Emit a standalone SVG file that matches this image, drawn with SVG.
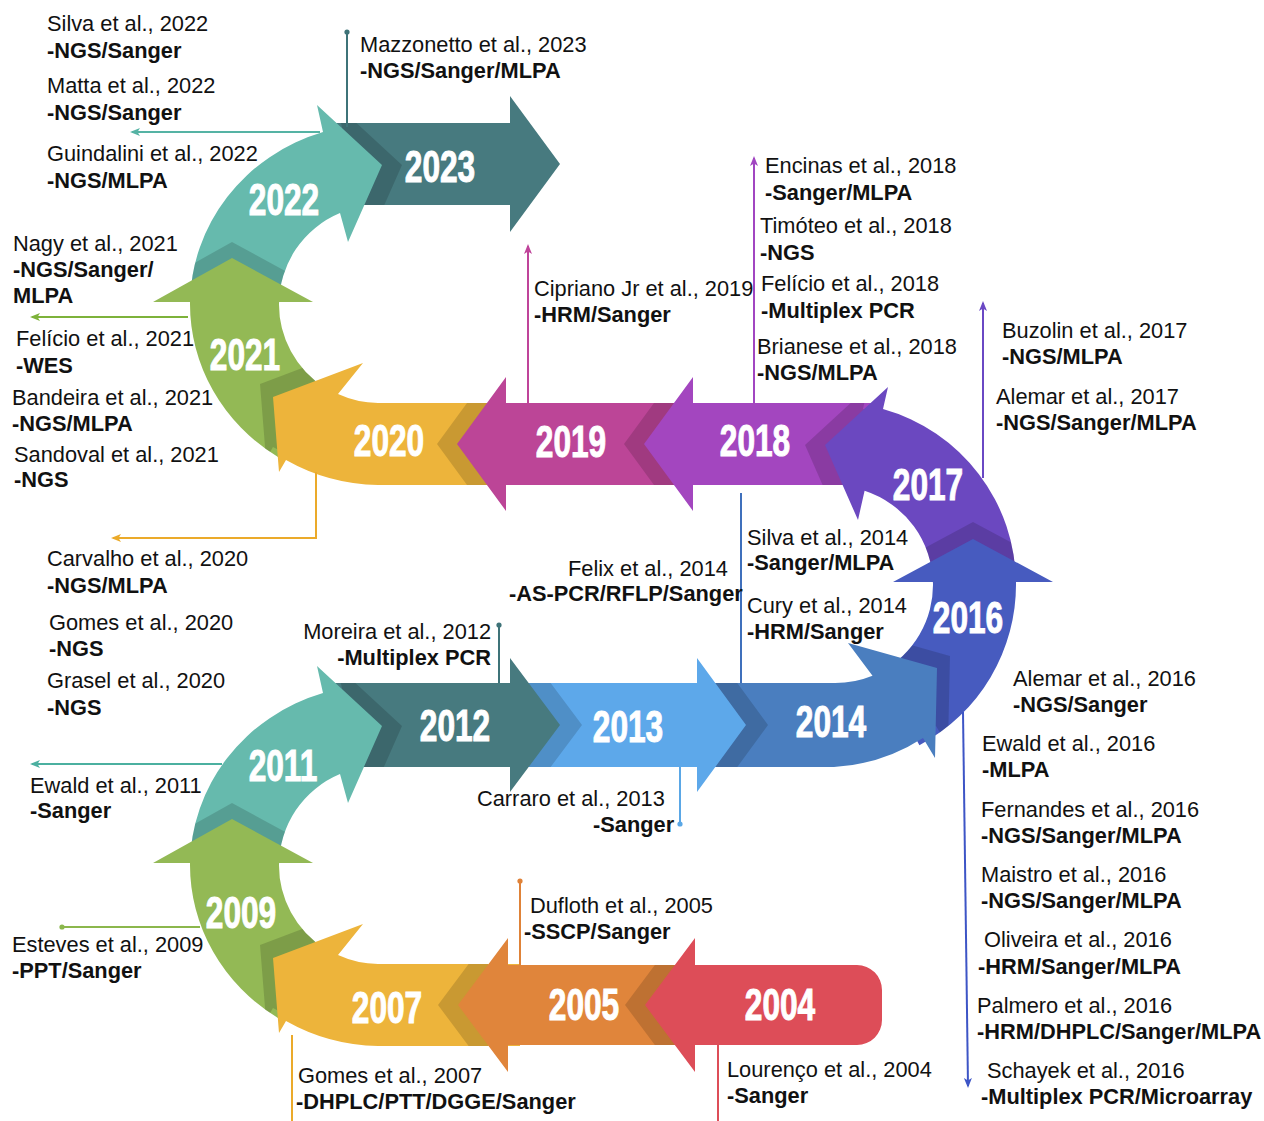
<svg xmlns="http://www.w3.org/2000/svg" xmlns:xlink="http://www.w3.org/1999/xlink" width="1264" height="1121" viewBox="0 0 1264 1121">
<style>
.t{font-family:"Liberation Sans",Arial,sans-serif;font-size:21.8px;fill:#111}
.b{font-weight:bold}
.yr{font-family:"Liberation Sans",Arial,sans-serif;font-weight:bold;font-size:44px;fill:#fff;text-anchor:middle;stroke:#fff;stroke-width:1}
.sh{fill:#000;opacity:.15}
.cn{fill:none;stroke-width:2}
</style>
<defs>
<path id="p2023" d="M330,123 L510,123 L510,96 L560,164 L510,232 L510,205 L330,205 Z"/>
<path id="p2022" d="M190,304 A188 181 0 0 1 323,132 L317,105 L382,165 L348,242 L340,213 A99 99 0 0 0 279,304 Z"/>
<path id="p2021" d="M190,302 L153,302 L232,258 L313,302 L279,302 A99 99 0 0 0 325.5,388 L278,457 A188 181 0 0 1 190,302 Z"/>
<path id="p2020" d="M520,403 L378,403 A99 99 0 0 1 338,394 L363,363 L273,397 L279,472 L286,460 A188 181 0 0 0 378,485 L520,485 Z"/>
<path id="p2019" d="M506,403 L506,377 L457,444 L506,511 L506,485 L700,485 L700,403 Z"/>
<path id="p2018" d="M693,403 L693,377 L644,444 L693,511 L693,485 L880,485 L880,403 Z"/>
<path id="p2017" d="M1016,584 A182 182 0 0 0 883,409 L888,387 L825,445 L858,520 L864.6,490.7 A99 99 0 0 1 933,584 Z"/>
<path id="p2016" d="M880.5,672 A99 99 0 0 0 933,582 L893,582 L973,539 L1053,582 L1016,582 A182 182 0 0 1 919.4,745.2 Z"/>
<path id="p2014" d="M705,683 L834,683 A99 99 0 0 0 872.5,675.7 L848,643 L937,668 L935,758 L923,738 A182 182 0 0 1 834,767 L705,767 Z"/>
<path id="p2013" d="M515,683 L697,683 L697,658 L746,725 L697,792 L697,767 L515,767 Z"/>
<path id="p2012" d="M330,683 L510,683 L510,658 L560,725 L510,792 L510,767 L330,767 Z"/>
<path id="p2011" d="M190,865 A188 181 0 0 1 323,693 L317,666 L382,726 L348,803 L340,774 A99 99 0 0 0 279,865 Z"/>
<path id="p2009" d="M190,863 L153,863 L232,819 L313,863 L279,863 A99 99 0 0 0 325.5,949 L278,1018 A188 181 0 0 1 190,863 Z"/>
<path id="p2007" d="M520,964 L378,964 A99 99 0 0 1 338,955 L363,924 L273,958 L279,1033 L286,1021 A188 181 0 0 0 378,1046 L520,1046 Z"/>
<path id="p2005" d="M508,965 L508,938 L458,1005 L508,1072 L508,1045 L700,1045 L700,965 Z"/>
<path id="p2004" d="M695,965 L695,938 L645,1005 L695,1072 L695,1045 L857,1045 A25 25 0 0 0 882,1020 L882,990 A25 25 0 0 0 857,965 Z"/>
<clipPath id="k2023"><use xlink:href="#p2023"/></clipPath>
<clipPath id="k2022"><use xlink:href="#p2022"/></clipPath>
<clipPath id="k2021"><use xlink:href="#p2021"/></clipPath>
<clipPath id="k2020"><use xlink:href="#p2020"/></clipPath>
<clipPath id="k2019"><use xlink:href="#p2019"/></clipPath>
<clipPath id="k2018"><use xlink:href="#p2018"/></clipPath>
<clipPath id="k2017"><use xlink:href="#p2017"/></clipPath>
<clipPath id="k2016"><use xlink:href="#p2016"/></clipPath>
<clipPath id="k2014"><use xlink:href="#p2014"/></clipPath>
<clipPath id="k2013"><use xlink:href="#p2013"/></clipPath>
<clipPath id="k2012"><use xlink:href="#p2012"/></clipPath>
<clipPath id="k2011"><use xlink:href="#p2011"/></clipPath>
<clipPath id="k2009"><use xlink:href="#p2009"/></clipPath>
<clipPath id="k2007"><use xlink:href="#p2007"/></clipPath>
<clipPath id="k2005"><use xlink:href="#p2005"/></clipPath>
<marker id="aTeal" viewBox="0 0 10 10" refX="8" refY="5" markerWidth="10" markerHeight="10" markerUnits="userSpaceOnUse" orient="auto"><path d="M0,1 L10,5 L0,9 L2.5,5 Z" fill="#55B3A4"/></marker>
<marker id="aGreen" viewBox="0 0 10 10" refX="8" refY="5" markerWidth="10" markerHeight="10" markerUnits="userSpaceOnUse" orient="auto"><path d="M0,1 L10,5 L0,9 L2.5,5 Z" fill="#7DB23A"/></marker>
<marker id="aYellow" viewBox="0 0 10 10" refX="8" refY="5" markerWidth="10" markerHeight="10" markerUnits="userSpaceOnUse" orient="auto"><path d="M0,1 L10,5 L0,9 L2.5,5 Z" fill="#EBAA2A"/></marker>
<marker id="aMag" viewBox="0 0 10 10" refX="8" refY="5" markerWidth="10" markerHeight="10" markerUnits="userSpaceOnUse" orient="auto"><path d="M0,1 L10,5 L0,9 L2.5,5 Z" fill="#BF449A"/></marker>
<marker id="aPur" viewBox="0 0 10 10" refX="8" refY="5" markerWidth="10" markerHeight="10" markerUnits="userSpaceOnUse" orient="auto"><path d="M0,1 L10,5 L0,9 L2.5,5 Z" fill="#A146C1"/></marker>
<marker id="aVio" viewBox="0 0 10 10" refX="8" refY="5" markerWidth="10" markerHeight="10" markerUnits="userSpaceOnUse" orient="auto"><path d="M0,1 L10,5 L0,9 L2.5,5 Z" fill="#6A48C4"/></marker>
<marker id="aBlue" viewBox="0 0 10 10" refX="8" refY="5" markerWidth="10" markerHeight="10" markerUnits="userSpaceOnUse" orient="auto"><path d="M0,1 L10,5 L0,9 L2.5,5 Z" fill="#3D55C6"/></marker>
<marker id="aTeal2" viewBox="0 0 10 10" refX="8" refY="5" markerWidth="10" markerHeight="10" markerUnits="userSpaceOnUse" orient="auto"><path d="M0,1 L10,5 L0,9 L2.5,5 Z" fill="#4BB0A0"/></marker>
<marker id="dDk" viewBox="0 0 6 6" refX="3" refY="3" markerWidth="6" markerHeight="6" markerUnits="userSpaceOnUse"><circle cx="3" cy="3" r="2.6" fill="#3E7378"/></marker>
<marker id="dLb" viewBox="0 0 6 6" refX="3" refY="3" markerWidth="6" markerHeight="6" markerUnits="userSpaceOnUse"><circle cx="3" cy="3" r="2.6" fill="#5AA7E6"/></marker>
<marker id="dGr" viewBox="0 0 6 6" refX="3" refY="3" markerWidth="6" markerHeight="6" markerUnits="userSpaceOnUse"><circle cx="3" cy="3" r="2.6" fill="#8BB74C"/></marker>
<marker id="dOr" viewBox="0 0 6 6" refX="3" refY="3" markerWidth="6" markerHeight="6" markerUnits="userSpaceOnUse"><circle cx="3" cy="3" r="2.6" fill="#DF8238"/></marker>
</defs>
<rect width="1264" height="1121" fill="#fff"/>

<g id="timeline">
<g id="y2023"><use xlink:href="#p2023" fill="#477A7F"/><text class="yr" transform="translate(440,182) scale(0.72,1)">2023</text></g>
<g id="y2022"><g clip-path="url(#k2023)"><use xlink:href="#p2022" class="sh" transform="translate(20,0)"/></g><use xlink:href="#p2022" fill="#66BAAD"/><text class="yr" transform="translate(284,215) scale(0.72,1)">2022</text></g>
<g id="y2021"><g clip-path="url(#k2022)"><use xlink:href="#p2021" class="sh" transform="translate(0,-16)"/></g><use xlink:href="#p2021" fill="#93B955"/><text class="yr" transform="translate(245,370) scale(0.72,1)">2021</text></g>
<g id="y2020"><g clip-path="url(#k2021)"><use xlink:href="#p2020" class="sh" transform="translate(-13,-13)"/></g><use xlink:href="#p2020" fill="#EDB43B"/><text class="yr" transform="translate(389,456) scale(0.72,1)">2020</text></g>
<g id="y2019"><g clip-path="url(#k2020)"><use xlink:href="#p2019" class="sh" transform="translate(-20,0)"/></g><use xlink:href="#p2019" fill="#BC4597"/><text class="yr" transform="translate(571,457) scale(0.72,1)">2019</text></g>
<g id="y2018"><g clip-path="url(#k2019)"><use xlink:href="#p2018" class="sh" transform="translate(-20,0)"/></g><use xlink:href="#p2018" fill="#A346BF"/><text class="yr" transform="translate(755,456) scale(0.72,1)">2018</text></g>
<g id="y2017"><g clip-path="url(#k2018)"><use xlink:href="#p2017" class="sh" transform="translate(-20,0)"/></g><use xlink:href="#p2017" fill="#6B48C0"/><text class="yr" transform="translate(928,500) scale(0.72,1)">2017</text></g>
<g id="y2016"><g clip-path="url(#k2017)"><use xlink:href="#p2016" class="sh" transform="translate(0,-17)"/></g><use xlink:href="#p2016" fill="#475BBF"/><text class="yr" transform="translate(968,633) scale(0.72,1)">2016</text></g>
<g id="y2014"><g clip-path="url(#k2016)"><use xlink:href="#p2014" class="sh" transform="translate(13,-12)"/></g><use xlink:href="#p2014" fill="#4A7EBF"/><text class="yr" transform="translate(831,737) scale(0.72,1)">2014</text></g>
<g id="y2013"><g clip-path="url(#k2014)"><use xlink:href="#p2013" class="sh" transform="translate(22,0)"/></g><use xlink:href="#p2013" fill="#5DA8EA"/><text class="yr" transform="translate(628,742) scale(0.72,1)">2013</text></g>
<g id="y2012"><g clip-path="url(#k2013)"><use xlink:href="#p2012" class="sh" transform="translate(22,0)"/></g><use xlink:href="#p2012" fill="#477A7F"/><text class="yr" transform="translate(455,741) scale(0.72,1)">2012</text></g>
<g id="y2011"><g clip-path="url(#k2012)"><use xlink:href="#p2011" class="sh" transform="translate(20,0)"/></g><use xlink:href="#p2011" fill="#66BAAD"/><text class="yr" transform="translate(283,781) scale(0.72,1)">2011</text></g>
<g id="y2009"><g clip-path="url(#k2011)"><use xlink:href="#p2009" class="sh" transform="translate(0,-16)"/></g><use xlink:href="#p2009" fill="#93B955"/><text class="yr" transform="translate(241,928) scale(0.72,1)">2009</text></g>
<g id="y2007"><g clip-path="url(#k2009)"><use xlink:href="#p2007" class="sh" transform="translate(-13,-13)"/></g><use xlink:href="#p2007" fill="#EDB43B"/><text class="yr" transform="translate(387,1023) scale(0.72,1)">2007</text></g>
<g id="y2005"><g clip-path="url(#k2007)"><use xlink:href="#p2005" class="sh" transform="translate(-20,0)"/></g><use xlink:href="#p2005" fill="#E0853B"/><text class="yr" transform="translate(584,1020) scale(0.72,1)">2005</text></g>
<g id="y2004"><g clip-path="url(#k2005)"><use xlink:href="#p2004" class="sh" transform="translate(-20,0)"/></g><use xlink:href="#p2004" fill="#DD4D58"/><text class="yr" transform="translate(780,1020) scale(0.72,1)">2004</text></g>
</g>

<g id="connectors">
<path class="cn" stroke="#3E7378" d="M347,127 V32" marker-end="url(#dDk)"/>
<path class="cn" stroke="#55B3A4" d="M320,132 H132" marker-end="url(#aTeal)"/>
<path class="cn" stroke="#7DB23A" d="M188,317 H32" marker-end="url(#aGreen)"/>
<path class="cn" stroke="#EBAA2A" d="M316,472 V538 H113" marker-end="url(#aYellow)"/>
<path class="cn" stroke="#BF449A" d="M528,403 V246" marker-end="url(#aMag)"/>
<path class="cn" stroke="#A146C1" d="M754,403 V158" marker-end="url(#aPur)"/>
<path class="cn" stroke="#6A48C4" d="M983,478 V303" marker-end="url(#aVio)"/>
<path class="cn" stroke="#3D55C6" d="M963,712 L968,1086" marker-end="url(#aBlue)"/>
<path class="cn" stroke="#3F70BC" d="M741,683 V493"/>
<path class="cn" stroke="#5AA7E6" d="M680,767 V824" marker-end="url(#dLb)"/>
<path class="cn" stroke="#3E7378" d="M499,683 V625" marker-end="url(#dDk)"/>
<path class="cn" stroke="#4BB0A0" d="M222,764 H32" marker-end="url(#aTeal2)"/>
<path class="cn" stroke="#8BB74C" d="M200,927 H62" marker-end="url(#dGr)"/>
<path class="cn" stroke="#EBAA2A" d="M292,1035 V1121"/>
<path class="cn" stroke="#DF8238" d="M520,965 V881" marker-end="url(#dOr)"/>
<path class="cn" stroke="#DD4D58" d="M718,1045 V1121"/>
</g>

<g id="labels">
<g id="l-silva2022"><text class="t" x="47" y="31">Silva et al., 2022</text><text class="t b" x="47" y="58">-NGS/Sanger</text></g>
<g id="l-matta2022"><text class="t" x="47" y="93">Matta et al., 2022</text><text class="t b" x="47" y="120">-NGS/Sanger</text></g>
<g id="l-guindalini2022"><text class="t" x="47" y="161">Guindalini et al., 2022</text><text class="t b" x="47" y="188">-NGS/MLPA</text></g>
<g id="l-mazzonetto2023"><text class="t" x="360" y="52">Mazzonetto et al., 2023</text><text class="t b" x="360" y="78">-NGS/Sanger/MLPA</text></g>
<g id="l-nagy2021"><text class="t" x="13" y="251">Nagy et al., 2021</text><text class="t b" x="13" y="277">-NGS/Sanger/</text><text class="t b" x="13" y="303">MLPA</text></g>
<g id="l-felicio2021"><text class="t" x="16" y="346">Felício et al., 2021</text><text class="t b" x="16" y="373">-WES</text></g>
<g id="l-bandeira2021"><text class="t" x="12" y="405">Bandeira et al., 2021</text><text class="t b" x="12" y="431">-NGS/MLPA</text></g>
<g id="l-sandoval2021"><text class="t" x="14" y="462">Sandoval et al., 2021</text><text class="t b" x="14" y="487">-NGS</text></g>
<g id="l-carvalho2020"><text class="t" x="47" y="566">Carvalho et al., 2020</text><text class="t b" x="47" y="593">-NGS/MLPA</text></g>
<g id="l-gomes2020"><text class="t" x="49" y="630">Gomes et al., 2020</text><text class="t b" x="49" y="656">-NGS</text></g>
<g id="l-grasel2020"><text class="t" x="47" y="688">Grasel et al., 2020</text><text class="t b" x="47" y="715">-NGS</text></g>
<g id="l-ewald2011"><text class="t" x="30" y="793">Ewald et al., 2011</text><text class="t b" x="30" y="818">-Sanger</text></g>
<g id="l-esteves2009"><text class="t" x="12" y="952">Esteves et al., 2009</text><text class="t b" x="12" y="978">-PPT/Sanger</text></g>
<g id="l-gomes2007"><text class="t" x="298" y="1083">Gomes et al., 2007</text><text class="t b" x="296" y="1109">-DHPLC/PTT/DGGE/Sanger</text></g>
<g id="l-dufloth2005"><text class="t" x="530" y="913">Dufloth et al., 2005</text><text class="t b" x="524" y="939">-SSCP/Sanger</text></g>
<g id="l-lourenco2004"><text class="t" x="727" y="1077">Lourenço et al., 2004</text><text class="t b" x="727" y="1103">-Sanger</text></g>
<g id="l-moreira2012"><text class="t" x="491" y="639" text-anchor="end">Moreira et al., 2012</text><text class="t b" x="491" y="665" text-anchor="end">-Multiplex PCR</text></g>
<g id="l-carraro2013"><text class="t" x="477" y="806">Carraro et al., 2013</text><text class="t b" x="593" y="832">-Sanger</text></g>
<g id="l-cipriano2019"><text class="t" x="534" y="296">Cipriano Jr et al., 2019</text><text class="t b" x="534" y="322">-HRM/Sanger</text></g>
<g id="l-encinas2018"><text class="t" x="765" y="173">Encinas et al., 2018</text><text class="t b" x="765" y="200">-Sanger/MLPA</text></g>
<g id="l-timoteo2018"><text class="t" x="760" y="233">Timóteo et al., 2018</text><text class="t b" x="760" y="260">-NGS</text></g>
<g id="l-felicio2018"><text class="t" x="761" y="291">Felício et al., 2018</text><text class="t b" x="761" y="318">-Multiplex PCR</text></g>
<g id="l-brianese2018"><text class="t" x="757" y="354">Brianese et al., 2018</text><text class="t b" x="757" y="380">-NGS/MLPA</text></g>
<g id="l-buzolin2017"><text class="t" x="1002" y="338">Buzolin et al., 2017</text><text class="t b" x="1002" y="364">-NGS/MLPA</text></g>
<g id="l-alemar2017"><text class="t" x="996" y="404">Alemar et al., 2017</text><text class="t b" x="996" y="430">-NGS/Sanger/MLPA</text></g>
<g id="l-felix2014"><text class="t" x="568" y="576">Felix et al., 2014</text><text class="t b" x="509" y="601">-AS-PCR/RFLP/Sanger</text></g>
<g id="l-silva2014"><text class="t" x="747" y="545">Silva et al., 2014</text><text class="t b" x="747" y="570">-Sanger/MLPA</text></g>
<g id="l-cury2014"><text class="t" x="747" y="613">Cury et al., 2014</text><text class="t b" x="747" y="639">-HRM/Sanger</text></g>
<g id="l-alemar2016"><text class="t" x="1013" y="686">Alemar et al., 2016</text><text class="t b" x="1013" y="712">-NGS/Sanger</text></g>
<g id="l-ewald2016"><text class="t" x="982" y="751">Ewald et al., 2016</text><text class="t b" x="982" y="777">-MLPA</text></g>
<g id="l-fernandes2016"><text class="t" x="981" y="817">Fernandes et al., 2016</text><text class="t b" x="981" y="843">-NGS/Sanger/MLPA</text></g>
<g id="l-maistro2016"><text class="t" x="981" y="882">Maistro et al., 2016</text><text class="t b" x="981" y="908">-NGS/Sanger/MLPA</text></g>
<g id="l-oliveira2016"><text class="t" x="984" y="947">Oliveira et al., 2016</text><text class="t b" x="978" y="974">-HRM/Sanger/MLPA</text></g>
<g id="l-palmero2016"><text class="t" x="977" y="1013">Palmero et al., 2016</text><text class="t b" x="977" y="1039">-HRM/DHPLC/Sanger/MLPA</text></g>
<g id="l-schayek2016"><text class="t" x="987" y="1078">Schayek et al., 2016</text><text class="t b" x="981" y="1104">-Multiplex PCR/Microarray</text></g>
</g>
</svg>
